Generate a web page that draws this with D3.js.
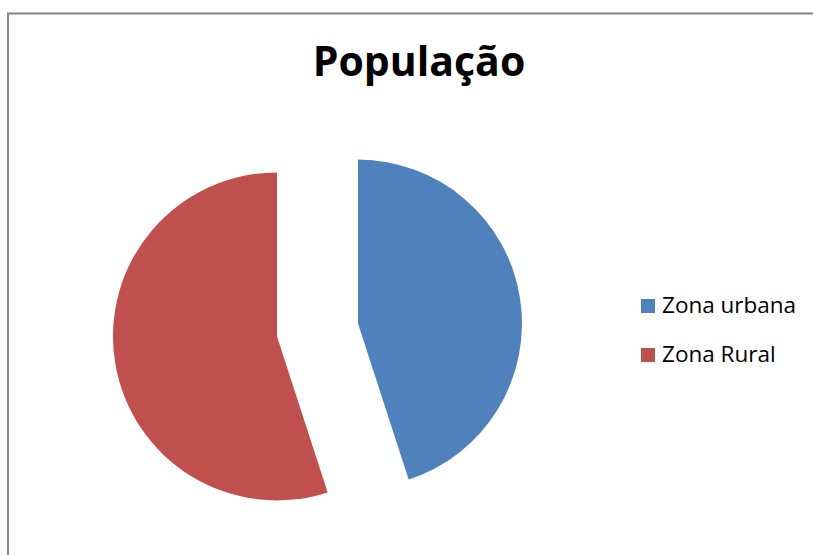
<!DOCTYPE html>
<html>
<head>
    <meta charset="utf-8">
    <style>
        body { margin: 0; background: #fff; }
        svg { display: block; }
        .title { font-family: 'Open Sans', sans-serif; font-weight: bold; font-size: 41px; fill: #000; }
        .legend-label { font-family: 'Open Sans', sans-serif; font-size: 22.5px; fill: #000; }
    </style>
</head>
<body>
    <svg width="813" height="555"></svg>

<script src="https://d3js.org/d3.v7.min.js"></script>
<script>
    // chart values
    let categories = ["Zona urbana", "Zona Rural"];
    let values = [45, 55];
    let colors = ["#4F81BD", "#C0504D"];

    let svg = d3.select("svg");

    // chart frame (right and bottom edges run off the picture)
    svg.append("rect")
        .attr("x", 8)
        .attr("y", 13.5)
        .attr("width", 900)
        .attr("height", 700)
        .attr("fill", "#fff")
        .attr("stroke", "#868686")
        .attr("stroke-width", 2);

    svg.append("text")
        .attr("class", "title")
        .attr("x", 419)
        .attr("y", 76)
        .attr("text-anchor", "middle")
        .text("População");

    let cx = 317.5, cy = 330, radius = 164, explode = 41;

    let pie = d3.pie().sort(null).value(d => d);
    let arc = d3.arc().innerRadius(0).outerRadius(radius);

    let slices = svg.append("g")
        .attr("transform", `translate(${cx},${cy})`);

    slices.selectAll("path")
        .data(pie(values))
        .join("path")
        .attr("fill", (d, i) => colors[i])
        .attr("d", arc)
        .attr("transform", d => {
            let a = (d.startAngle + d.endAngle) / 2;
            return `translate(${Math.sin(a) * explode},${-Math.cos(a) * explode})`;
        });

    // legend
    let legend = svg.append("g")
        .attr("transform", "translate(641,299)");

    let items = legend.selectAll("g")
        .data(categories)
        .join("g")
        .attr("transform", (d, i) => `translate(0,${i * 49})`);

    items.append("rect")
        .attr("width", 14)
        .attr("height", 14)
        .attr("fill", (d, i) => colors[i]);

    items.append("text")
        .attr("class", "legend-label")
        .attr("x", 21)
        .attr("y", 14)
        .text(d => d);
</script>
</body>
</html>
